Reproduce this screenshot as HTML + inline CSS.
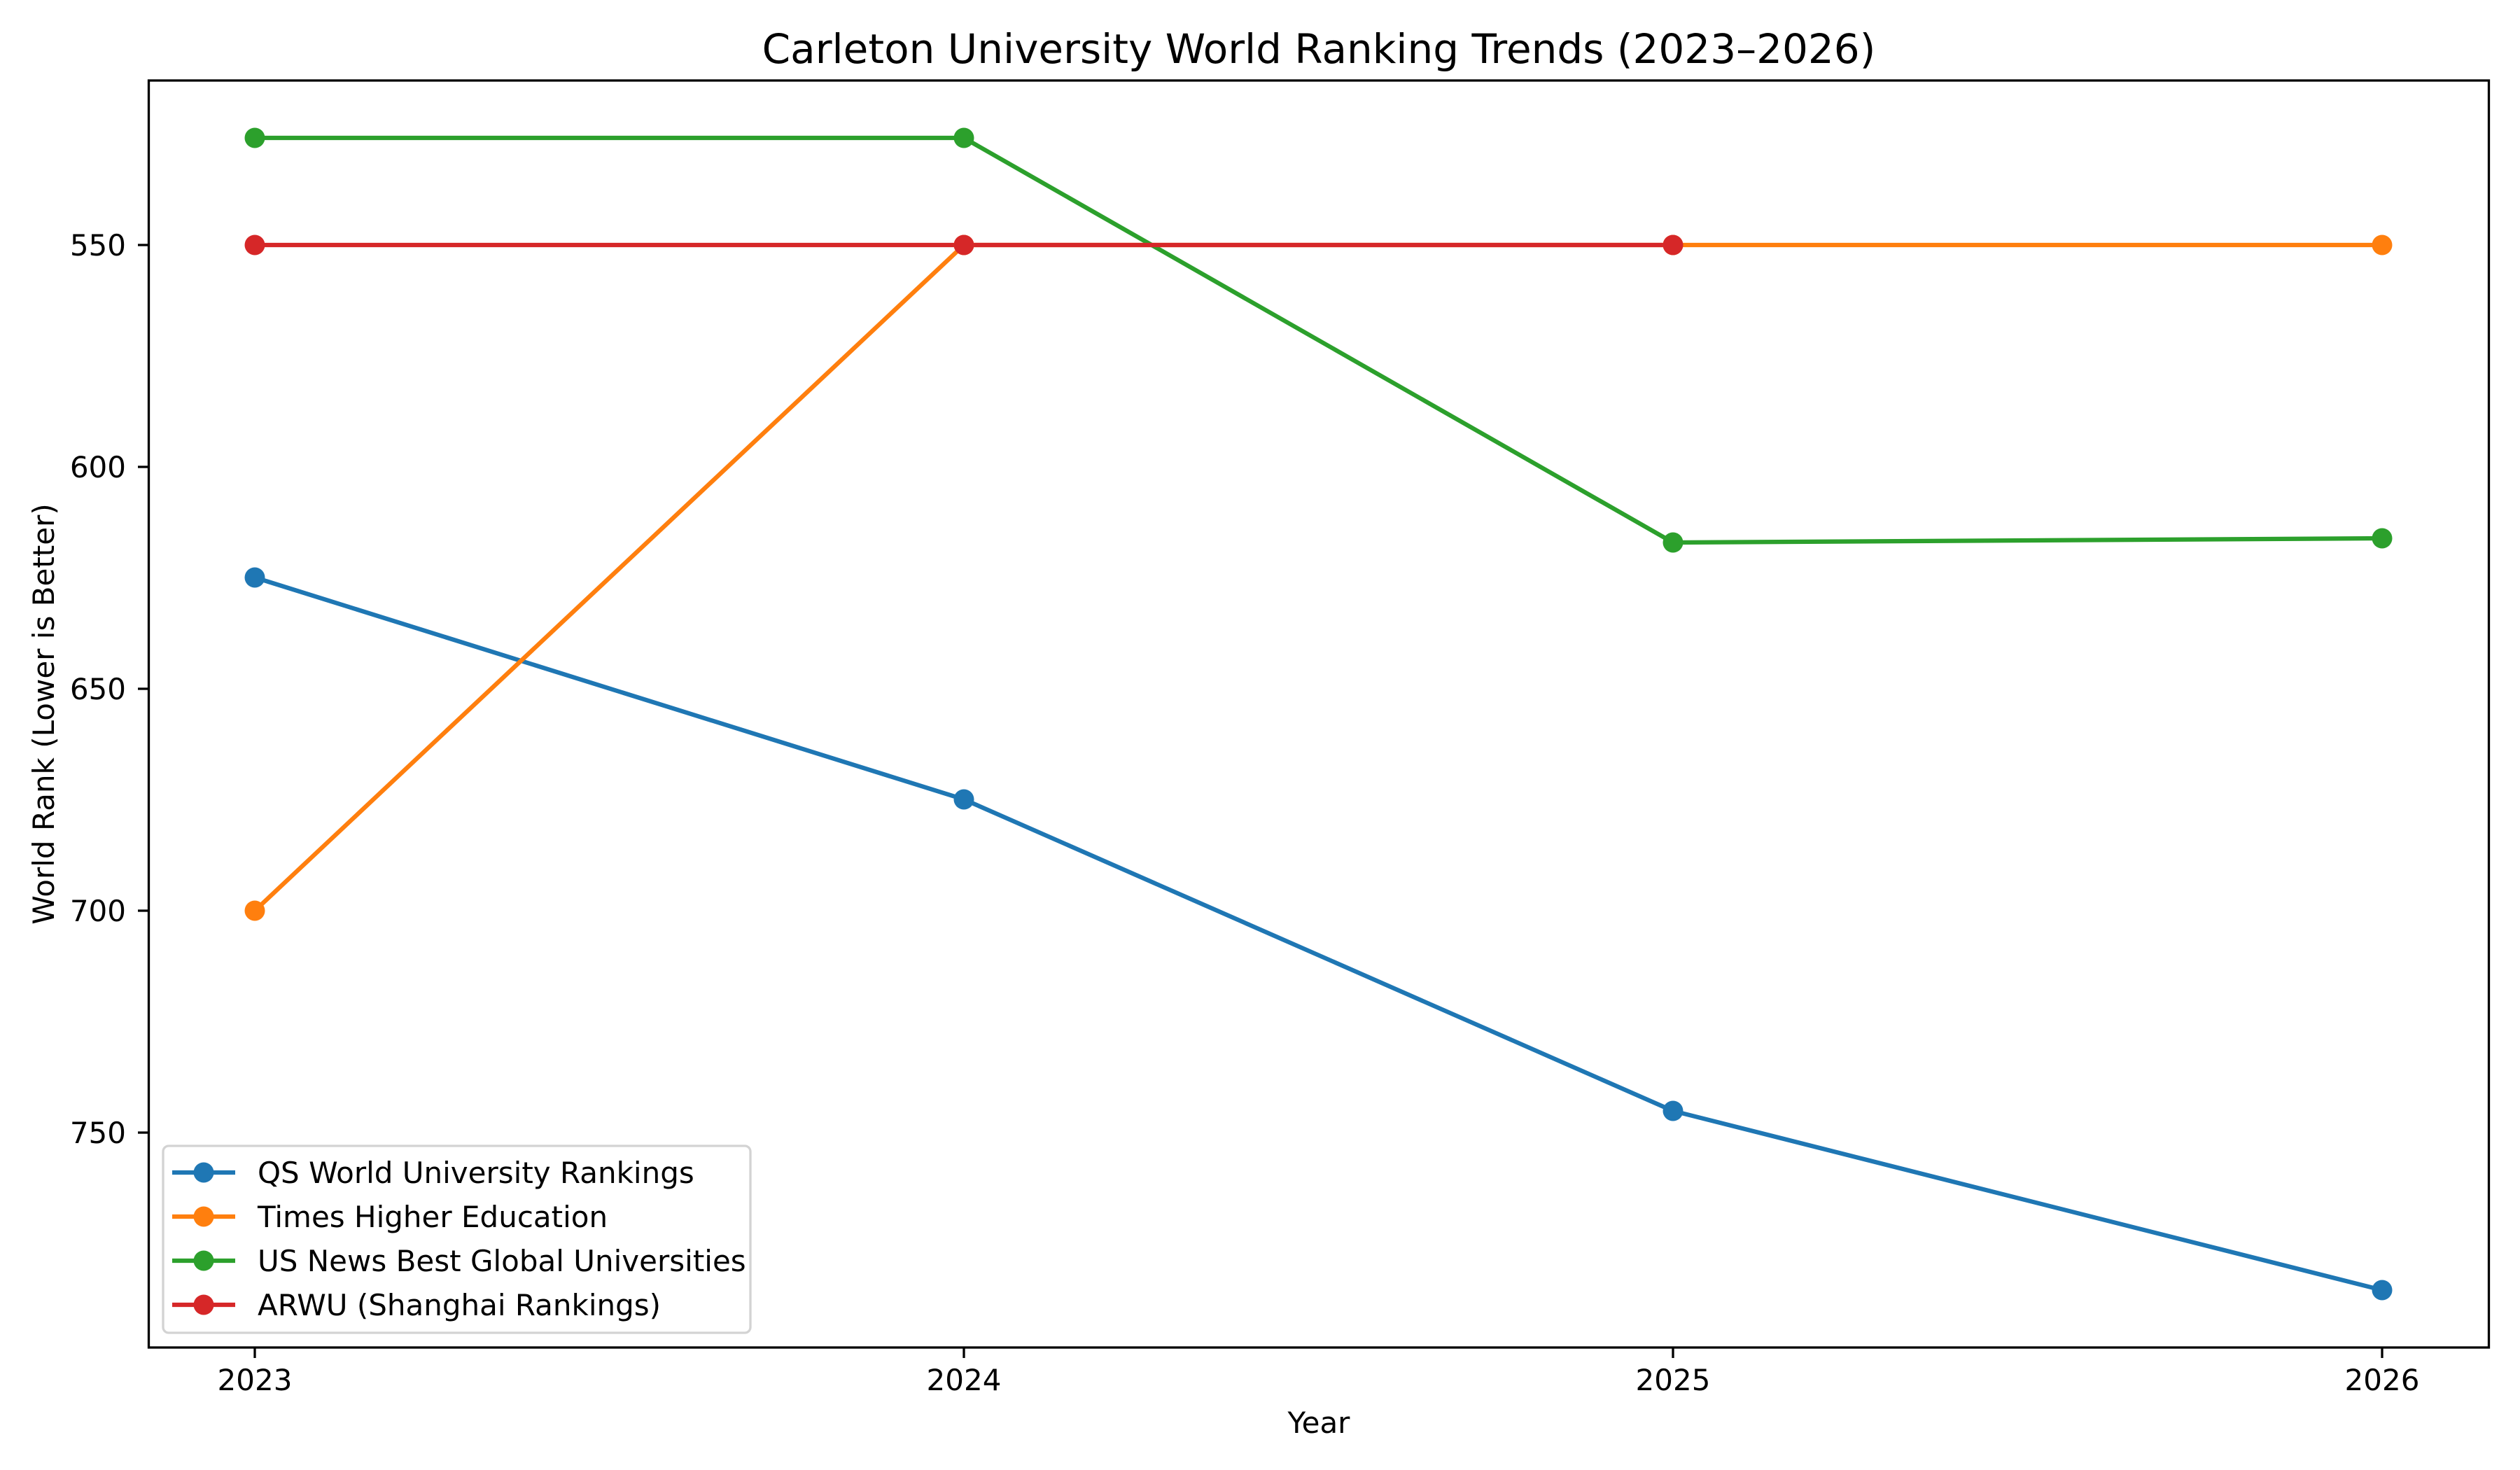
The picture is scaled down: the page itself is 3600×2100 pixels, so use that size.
<!DOCTYPE html>
<html><head><meta charset="utf-8"><style>html,body{margin:0;padding:0;background:#fff}svg{display:block}</style></head>
<body>
<svg width="3600" height="2100" viewBox="0 0 3600 2100" xmlns="http://www.w3.org/2000/svg" font-family="DejaVu Sans, Liberation Sans, sans-serif">
<rect width="3600" height="2100" fill="#fff"/>
<text x="1884" y="90" font-size="58" text-anchor="middle">Carleton University World Ranking Trends (2023–2026)</text>
<g stroke-width="6.25" fill="none" stroke-linejoin="round">
<polyline stroke="#1f77b4" points="364,825 1377,1142 2390,1587 3403,1843"/>
<polyline stroke="#ff7f0e" points="364,1301 1377,350 2390,350 3403,350"/>
<polyline stroke="#2ca02c" points="364,197 1377,197 2390,775 3403,769"/>
<polyline stroke="#d62728" points="364,350 1377,350 2390,350"/>
</g>
<g fill="#1f77b4"><circle cx="364" cy="825" r="14.5"/><circle cx="1377" cy="1142" r="14.5"/><circle cx="2390" cy="1587" r="14.5"/><circle cx="3403" cy="1843" r="14.5"/></g>
<g fill="#ff7f0e"><circle cx="364" cy="1301" r="14.5"/><circle cx="1377" cy="350" r="14.5"/><circle cx="2390" cy="350" r="14.5"/><circle cx="3403" cy="350" r="14.5"/></g>
<g fill="#2ca02c"><circle cx="364" cy="197" r="14.5"/><circle cx="1377" cy="197" r="14.5"/><circle cx="2390" cy="775" r="14.5"/><circle cx="3403" cy="769" r="14.5"/></g>
<g fill="#d62728"><circle cx="364" cy="350" r="14.5"/><circle cx="1377" cy="350" r="14.5"/><circle cx="2390" cy="350" r="14.5"/></g>
<rect x="212.5" y="115" width="3343" height="1810" fill="none" stroke="#000" stroke-width="3.3"/>
<g stroke="#000" stroke-width="3.3">
<line x1="212" y1="350" x2="197" y2="350"/><line x1="212" y1="667" x2="197" y2="667"/><line x1="212" y1="984" x2="197" y2="984"/><line x1="212" y1="1301" x2="197" y2="1301"/><line x1="212" y1="1618" x2="197" y2="1618"/>
<line x1="364" y1="1925" x2="364" y2="1940"/><line x1="1377" y1="1925" x2="1377" y2="1940"/><line x1="2390" y1="1925" x2="2390" y2="1940"/><line x1="3403" y1="1925" x2="3403" y2="1940"/>
</g>
<g font-size="42" text-anchor="end">
<text x="180" y="365">550</text><text x="180" y="682">600</text><text x="180" y="999">650</text><text x="180" y="1316">700</text><text x="180" y="1633">750</text>
</g>
<g font-size="42" text-anchor="middle">
<text x="364" y="1986">2023</text><text x="1377" y="1986">2024</text><text x="2390" y="1986">2025</text><text x="3403" y="1986">2026</text>
<text x="1884" y="2047">Year</text>
<text transform="translate(77,1020) rotate(-90)">World Rank (Lower is Better)</text>
</g>
<rect x="233" y="1637" width="839" height="267" rx="8" fill="#fff" fill-opacity="0.8" stroke="#d3d3d3" stroke-width="3.3"/>
<g stroke-width="6.25">
<line x1="246" y1="1675" x2="336" y2="1675" stroke="#1f77b4"/>
<line x1="246" y1="1738" x2="336" y2="1738" stroke="#ff7f0e"/>
<line x1="246" y1="1801" x2="336" y2="1801" stroke="#2ca02c"/>
<line x1="246" y1="1864" x2="336" y2="1864" stroke="#d62728"/>
</g>
<circle cx="291" cy="1675" r="14.5" fill="#1f77b4"/><circle cx="291" cy="1738" r="14.5" fill="#ff7f0e"/><circle cx="291" cy="1801" r="14.5" fill="#2ca02c"/><circle cx="291" cy="1864" r="14.5" fill="#d62728"/>
<g font-size="42">
<text x="368" y="1690">QS World University Rankings</text>
<text x="368" y="1753">Times Higher Education</text>
<text x="368" y="1816">US News Best Global Universities</text>
<text x="368" y="1879">ARWU (Shanghai Rankings)</text>
</g>
</svg>
</body></html>
